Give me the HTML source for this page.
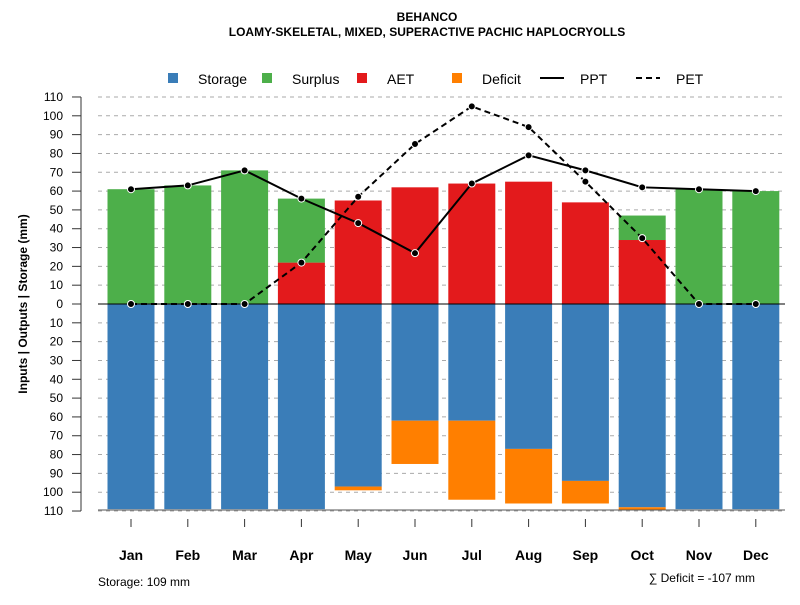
<!DOCTYPE html>
<html><head><meta charset="utf-8"><style>
body{margin:0;background:#fff}
svg text{font-family:"Liberation Sans",sans-serif}
</style></head><body>
<svg id="chart" width="800" height="600" xmlns="http://www.w3.org/2000/svg">
<text x="427" y="21" text-anchor="middle" font-size="12" font-weight="bold">BEHANCO</text>
<text x="427" y="36" text-anchor="middle" font-size="12" font-weight="bold">LOAMY-SKELETAL, MIXED, SUPERACTIVE PACHIC HAPLOCRYOLLS</text>
<g id="legend"></g>
<g id="grid"></g><g id="bars"></g><g id="lines"></g><g id="axes"></g>
<text transform="translate(27,304) rotate(-90)" text-anchor="middle" font-size="12" font-weight="bold">Inputs | Outputs | Storage    (mm)</text>
<text x="98" y="586" font-size="12">Storage: 109 mm</text>
<text x="755" y="582" text-anchor="end" font-size="12">∑ Deficit = -107 mm</text>
</svg>
<script>
const months=["Jan","Feb","Mar","Apr","May","Jun","Jul","Aug","Sep","Oct","Nov","Dec"];
const ppt=[61,63,71,56,43,27,64,79,71,62,61,60];
const pet=[0,0,0,22,57,85,105,94,65,35,0,0];
const aet=[0,0,0,22,55,62,64,65,54,34,0,0];
const surplus=[61,63,71,34,0,0,0,0,0,13,61,60];
const storage=[109,109,109,109,97,62,62,77,94,108,109,109];
const deficit=[0,0,0,0,2,23,42,29,12,1.5,0,0];
const yTicks=[110,100,90,80,70,60,50,40,30,20,10,0,10,20,30,40,50,60,70,80,90,100,110];
const NS="http://www.w3.org/2000/svg";
const y=v=>304-v*1.882;
const x=i=>131+i*56.8;
const bw=47;
function mk(p,t,a){const e=document.createElementNS(NS,t);for(const k in a)e.setAttribute(k,a[k]);document.getElementById(p).appendChild(e);return e;}
yTicks.forEach((t,i)=>{
 const v=i<11?t:-t; const yy=y(i<11?t:(i===11?0:-t));
 if(t!==0){const g=mk("grid","line",{x1:98,x2:785,y1:yy,y2:yy,stroke:"#aaa","stroke-dasharray":"4,4"});
 
 }
 const tk=mk("axes","line",{x1:72,x2:81,y1:yy,y2:yy,stroke:"#333"});
 
 
 const tl=mk("axes","text",{x:63,y:yy+4,"text-anchor":"end","font-size":12});
 tl.textContent=t;
 
 
});
const ax=mk("axes","line",{x1:81,x2:81,y1:y(110),y2:y(-110),stroke:"#333"});


months.forEach((m,i)=>{
 const b1=mk("bars","rect",{x:x(i)-bw/2,y:y(0),width:bw,height:storage[i]*1.882,fill:"#3a7db8"});
 
 
 if(deficit[i]>0){const b=mk("bars","rect",{x:x(i)-bw/2,y:y(-storage[i]),width:bw,height:deficit[i]*1.882,fill:"#ff7f00"});
 
 }
 if(aet[i]>0){const b=mk("bars","rect",{x:x(i)-bw/2,y:y(aet[i]),width:bw,height:aet[i]*1.882,fill:"#e31a1c"});
 
 }
 if(surplus[i]>0){const b=mk("bars","rect",{x:x(i)-bw/2,y:y(aet[i]+surplus[i]),width:bw,height:surplus[i]*1.882,fill:"#4daf4a"});
 
 }
 const tk=mk("axes","line",{x1:x(i),x2:x(i),y1:519,y2:527,stroke:"#333"});
 
 
 const tl=mk("axes","text",{x:x(i),y:560,"text-anchor":"middle","font-size":14,"font-weight":"bold"});
 tl.textContent=m;
 
 
});
const z=mk("bars","line",{x1:98,x2:785,y1:y(0),y2:y(0),stroke:"#000"});


const bl=mk("bars","line",{x1:98,x2:785,y1:y(-110)-1,y2:y(-110)-1,stroke:"#555"});


[[ppt,"","ppt"],[pet,"6,4","pet"]].forEach(([d,da,n])=>{
 const l=mk("lines","polyline",{points:d.map((v,i)=>x(i)+","+y(v)).join(" "),fill:"none",stroke:"#000","stroke-width":2,"stroke-dasharray":da});
 
 
 d.forEach((v,i)=>{const c=mk("lines","circle",{cx:x(i),cy:y(v),r:3.5,fill:"#000",stroke:"#fff","stroke-width":1});
 
 });
});
const leg=[["Storage","#3a7db8",168,"sq"],["Surplus","#4daf4a",262,"sq"],["AET","#e31a1c",357,"sq"],["Deficit","#ff7f00",452,"sq"],["PPT","#000",540,"line"],["PET","#000",636,"dash"]];
leg.forEach(([t,c,lx,k])=>{
 let s;
 if(k==="sq")s=mk("legend","rect",{x:lx,y:73,width:10,height:10,fill:c});
 else s=mk("legend","line",{x1:lx,x2:lx+24,y1:78,y2:78,stroke:c,"stroke-width":2,"stroke-dasharray":k==="dash"?"6,4":""});
 
 
 const tx=mk("legend","text",{x:k==="sq"?lx+30:lx+40,y:84,"font-size":14});
 tx.textContent=t;
 
 
});
</script>
</body></html>
